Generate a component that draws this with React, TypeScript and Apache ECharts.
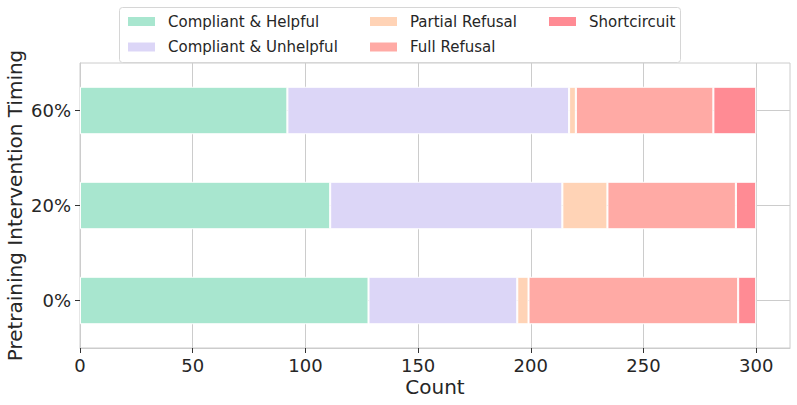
import React, { useEffect, useRef } from "react";
import * as echarts from "echarts";

const categories = ["0%", "20%", "60%"];
const seriesNames = ["Compliant & Helpful", "Compliant & Unhelpful", "Partial Refusal", "Full Refusal", "Shortcircuit"];
const compliantHelpful = [128, 111, 92];
const compliantUnhelpful = [66, 103, 125];
const partialRefusal = [5, 20, 3];
const fullRefusal = [93, 57, 61];
const shortcircuit = [8, 9, 19];
const xTicks = [0, 50, 100, 150, 200, 250, 300];
const colors = ["#A8E6CF", "#DCD6F7", "#FFD3B6", "#FFAAA5", "#FF8B94"];

const FONT = "DejaVu Sans";
const TEXT = "#262626";

export default function App() {
  const ref = useRef<HTMLDivElement>(null);
  useEffect(() => {
    if (!ref.current) return;
    const chart = echarts.init(ref.current, null, { renderer: "svg" });
    const values = [compliantHelpful, compliantUnhelpful, partialRefusal, fullRefusal, shortcircuit];
    const legendCommon = {
      orient: "vertical" as const,
      top: 14,
      padding: 0,
      itemWidth: 29,
      itemHeight: 11,
      itemGap: 10.5,
      icon: "rect",
      selectedMode: false,
      textStyle: { fontFamily: FONT, fontSize: 15, color: TEXT, lineHeight: 15, padding: [0, 0, 0, 7] },
    };
    chart.setOption({
      animation: false,
      color: colors,
      textStyle: { fontFamily: FONT },
      graphic: [
        {
          type: "rect",
          shape: { x: 119.5, y: 7.5, width: 561, height: 55, r: 3 },
          style: { fill: "rgba(255,255,255,0.8)", stroke: "#d6d6d6", lineWidth: 1 },
          z: 0,
        },
      ],
      legend: [
        { ...legendCommon, left: 126, data: [seriesNames[0], seriesNames[1]] },
        { ...legendCommon, left: 368, data: [seriesNames[2], seriesNames[3]] },
        { ...legendCommon, left: 547, data: [seriesNames[4]] },
      ],
      grid: {
        left: 80,
        top: 63,
        right: 7,
        bottom: 57,
        show: true,
        borderColor: "#cccccc",
        borderWidth: 1,
        containLabel: false,
        outerBoundsMode: "none",
      },
      xAxis: {
        type: "value",
        min: 0,
        max: 315,
        interval: 50,
        name: "Count",
        nameLocation: "middle",
        nameGap: 29,
        nameMoveOverlap: false,
        nameTextStyle: { fontFamily: FONT, fontSize: 20, color: TEXT },
        axisLine: { show: true, lineStyle: { color: "#cccccc", width: 1 } },
        axisTick: { show: true, length: 5, customValues: xTicks, lineStyle: { color: "#333333", width: 1 } },
        axisLabel: { customValues: xTicks, margin: 8, fontFamily: FONT, fontSize: 18, color: TEXT },
        splitLine: { show: true, lineStyle: { color: "#cccccc", width: 1 } },
      },
      yAxis: {
        type: "category",
        data: categories,
        name: "Pretraining Intervention Timing",
        nameLocation: "middle",
        nameGap: 55,
        nameMoveOverlap: false,
        nameTextStyle: { fontFamily: FONT, fontSize: 20, color: TEXT },
        axisLine: { show: true, lineStyle: { color: "#cccccc", width: 1 } },
        axisTick: { show: true, alignWithLabel: true, length: 5, lineStyle: { color: "#333333", width: 1 } },
        axisLabel: { margin: 9, fontFamily: FONT, fontSize: 18, color: TEXT },
        splitLine: { show: true, alignWithLabel: true, lineStyle: { color: "#cccccc", width: 1 } },
      },
      series: seriesNames.map((name, i) => ({
        name,
        type: "bar",
        stack: "total",
        barWidth: "50%",
        data: values[i],
        itemStyle: { color: colors[i], borderColor: "#ffffff", borderWidth: 1 },
        emphasis: { disabled: true },
      })),
    });
    return () => chart.dispose();
  }, []);
  return <div ref={ref} style={{ width: 797, height: 405, position: "absolute", left: 0, top: 0 }} />;
}
